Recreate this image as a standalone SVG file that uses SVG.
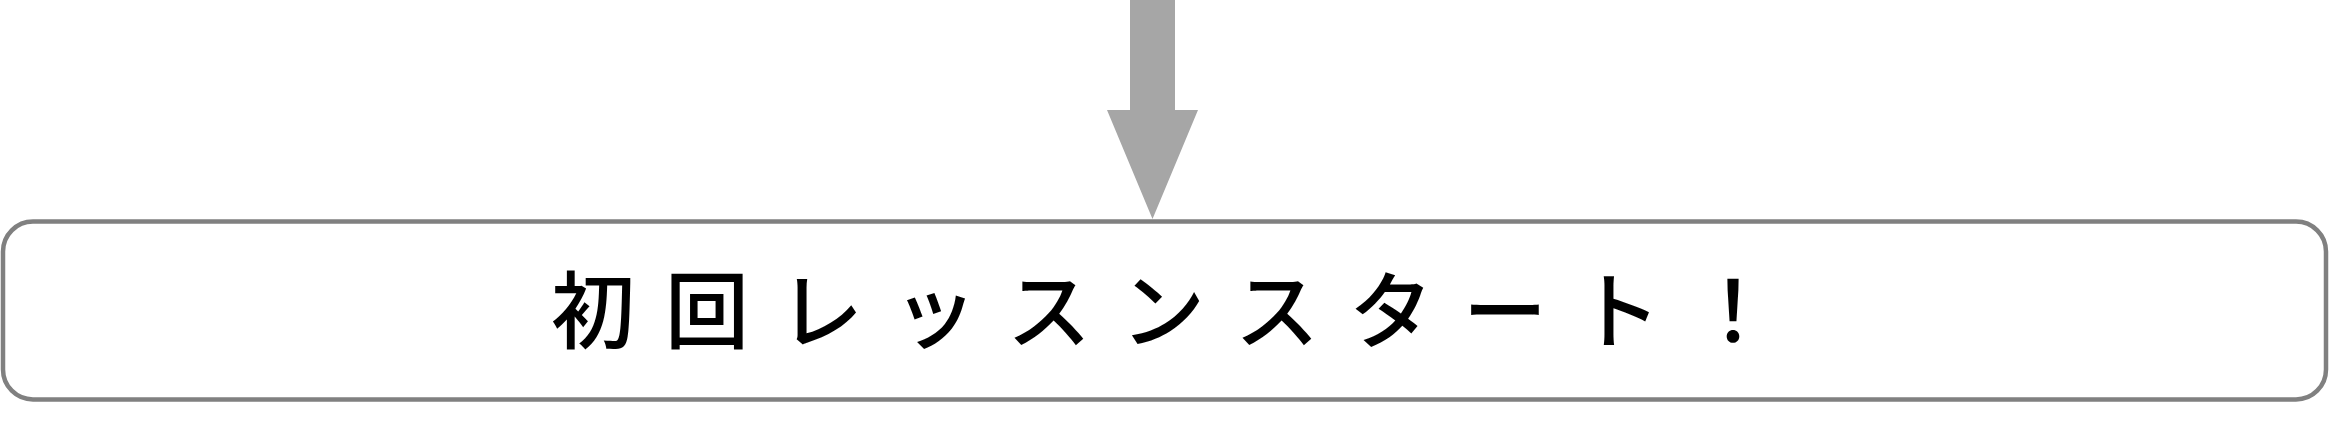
<svg xmlns="http://www.w3.org/2000/svg" width="2330" height="426" viewBox="0 0 2330 426">
<style>
.box{fill:#ffffff;stroke:#808080;stroke-width:4.5}
.arrow{fill:#a6a6a6;stroke:none}
.label{font-family:"Noto Sans CJK JP","Noto Sans CJK SC",sans-serif;font-size:84px;font-weight:500;fill:#000000;text-anchor:middle}
</style>
<rect width="2330" height="426" fill="#ffffff"/>
<g id="connectors">
<path class="arrow" d="M1130,0 L1175,0 L1175,110 L1198,110 L1152.5,219 L1107,110 L1130,110 Z"/>
</g>
<g id="node-start">
<rect class="box" x="3" y="221.5" width="2323" height="178" rx="30" ry="30"/>
<text class="label" x="593 707 821 935 1049 1163 1277 1391 1505 1619 1733" y="342">初回レッスンスタート！</text>
</g>
</svg>
